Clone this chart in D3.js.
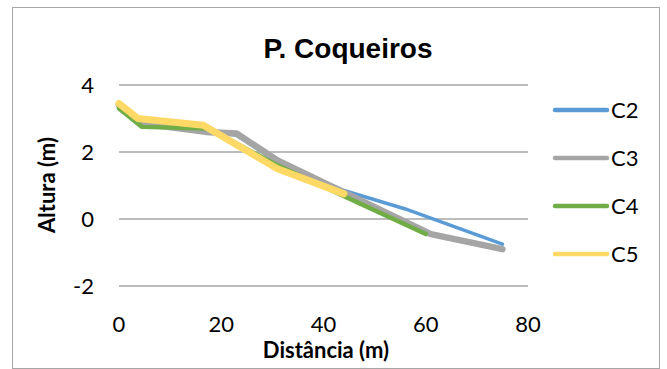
<!DOCTYPE html>
<html>
<head>
<meta charset="utf-8">
<script src="https://cdn.jsdelivr.net/npm/d3@7"></script>
<style>
  html, body { margin: 0; padding: 0; background: #fff; }
  svg { display: block; }
</style>
</head>
<body>
<script>
// Beach profiles, P. Coqueiros: distance (m) vs height (m)
const seriesNames = ["C2", "C3", "C4", "C5"];
const c2 = [[0, 3.35], [4.5, 2.8], [17, 2.65], [23, 2.5], [31, 1.7], [44, 0.85], [56, 0.3], [75, -0.75]];
const c3 = [[0, 3.4], [4.5, 2.85], [17, 2.6], [23, 2.55], [31, 1.75], [61, -0.45], [75, -0.9]];
const c4 = [[0, 3.3], [4.5, 2.75], [17.5, 2.7], [31, 1.6], [60, -0.45]];
const c5 = [[0, 3.45], [3.7, 3.0], [16.5, 2.8], [31, 1.5], [44, 0.75]];
const xTicks = [0, 20, 40, 60, 80];
const yTicks = [-2, 0, 2, 4];

const W = 667, H = 369;
const colors = { C2: "#5b9bd5", C3: "#a5a5a5", C4: "#70ad47", C5: "#ffd966" };
const widths = { C2: 3.5, C3: 6.5, C4: 4.5, C5: 7 };
const data = { C2: c2, C3: c3, C4: c4, C5: c5 };

const svg = d3.select("body").append("svg").attr("width", W).attr("height", H);

// chart frame
svg.append("rect")
  .attr("x", 12.5).attr("y", 7.5).attr("width", 647).attr("height", 361)
  .attr("fill", "#fff").attr("stroke", "#a6a6a6").attr("stroke-width", 1);

const x = d3.scaleLinear().domain([0, 80]).range([119, 528]);
const y = d3.scaleLinear().domain([-2, 4]).range([286, 85]);

// horizontal gridlines
svg.append("g").selectAll("line").data(yTicks).join("line")
  .attr("x1", x(0)).attr("x2", x(80))
  .attr("y1", d => y(d)).attr("y2", d => y(d))
  .attr("stroke", "#a6a6a6").attr("stroke-width", 1.6);

// y tick labels
const tickFont = "Lato, 'Open Sans', sans-serif";
svg.append("g").selectAll("text").data(yTicks).join("text")
  .attr("x", 94).attr("y", d => y(d))
  .attr("dy", "0.36em")
  .attr("text-anchor", "end")
  .attr("font-family", tickFont).attr("font-size", 22).attr("fill", "#000")
  .text(d => d);

// x tick labels
svg.append("g").selectAll("text").data(xTicks).join("text")
  .attr("x", d => x(d)).attr("y", 324)
  .attr("dy", "0.36em")
  .attr("text-anchor", "middle")
  .attr("font-family", tickFont).attr("font-size", 22).attr("fill", "#000")
  .text(d => d);

// series lines
const line = d3.line().x(d => x(d[0])).y(d => y(d[1]));
seriesNames.forEach(name => {
  svg.append("path")
    .datum(data[name])
    .attr("d", line)
    .attr("fill", "none")
    .attr("stroke", colors[name])
    .attr("stroke-width", widths[name])
    .attr("stroke-linejoin", "round")
    .attr("stroke-linecap", "round");
});

// title
svg.append("text")
  .attr("x", 348).attr("y", 58)
  .attr("text-anchor", "middle")
  .attr("font-family", "'Liberation Sans', Arial, sans-serif")
  .attr("font-weight", "bold").attr("font-size", 28)
  .text("P. Coqueiros");

// axis titles
svg.append("text")
  .attr("x", 326).attr("y", 358)
  .attr("text-anchor", "middle")
  .attr("font-family", tickFont).attr("font-weight", "bold").attr("font-size", 22)
  .text("Distância (m)");

svg.append("text")
  .attr("transform", "translate(55,185) rotate(-90)")
  .attr("text-anchor", "middle")
  .attr("font-family", tickFont).attr("font-weight", "bold").attr("font-size", 22)
  .text("Altura (m)");

// legend
const legendY = d3.scalePoint().domain(seriesNames).range([110, 254]);
const lg = svg.append("g").selectAll("g").data(seriesNames).join("g")
  .attr("transform", d => `translate(0,${legendY(d)})`);
lg.append("line")
  .attr("x1", 555).attr("x2", 607).attr("y1", 0).attr("y2", 0)
  .attr("stroke", d => colors[d]).attr("stroke-width", 4.5)
  .attr("stroke-linecap", "round");
lg.append("text")
  .attr("x", 611).attr("y", 0).attr("dy", "0.36em")
  .attr("font-family", tickFont).attr("font-size", 22)
  .text(d => d);
</script>
</body>
</html>
